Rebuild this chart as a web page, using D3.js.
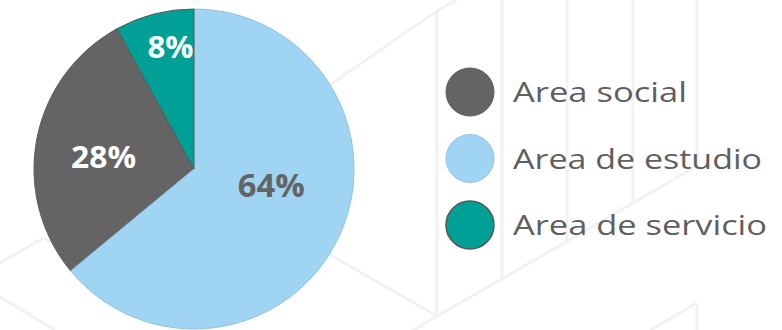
<!DOCTYPE html>
<html>
<head>
<meta charset="utf-8">
<script src="https://cdn.jsdelivr.net/npm/d3@7"></script>
<style>
  html, body { margin: 0; padding: 0; background: #ffffff; }
  svg { display: block; }
</style>
</head>
<body>
<svg id="chart" width="782" height="330"></svg>
<script>
// Distribution of areas (percent)
const categories = ["Area social", "Area de estudio", "Area de servicio"];
const values = [28, 64, 8];
const colors = ["#646464", "#a0d4f3", "#00a097"];
const strokes = ["#5b5b5b", "#8cc3e4", "#555a59"];
const valueLabels = ["28%", "64%", "8%"];
// Slices run clockwise from 12 o'clock in this order
const sliceOrder = ["Area de estudio", "Area social", "Area de servicio"];

const W = 782, H = 330;
const svg = d3.select("#chart");

// Decorative isometric line pattern in the background
const bgLines = [
  [[250, 140], [437, 11]], [[437, 11], [457, 0]],
  [[437, 11], [437, 316]],
  [[502, 0], [502, 279]],
  [[567, 0], [567, 241]],
  [[633, 0], [633, 203]],
  [[697, 0], [697, 166]], [[697, 303], [697, 330]],
  [[410, 332], [697, 166]],
  [[250, 209], [437, 316]],
  [[650, 330], [697, 303]],
  [[0, 263], [43, 238]], [[43, 238], [90, 265]],
  [[0, 297], [55, 330]]
];
svg.append("g")
  .selectAll("line")
  .data(bgLines)
  .join("line")
  .attr("x1", d => d[0][0]).attr("y1", d => d[0][1])
  .attr("x2", d => d[1][0]).attr("y2", d => d[1][1])
  .attr("stroke", "#f2f2f2")
  .attr("stroke-width", 3);

const data = categories.map((c, i) => ({
  name: c, value: values[i], color: colors[i], stroke: strokes[i], label: valueLabels[i]
}));

const cx = 194, cy = 169, R = 160;
const pie = d3.pie()
  .value(d => d.value)
  .sort((a, b) => sliceOrder.indexOf(a.name) - sliceOrder.indexOf(b.name));
const arcs = pie(data);
const arc = d3.arc().innerRadius(0).outerRadius(R);

const g = svg.append("g").attr("transform", `translate(${cx},${cy})`);
g.selectAll("path")
  .data(arcs)
  .join("path")
  .attr("d", arc)
  .attr("fill", d => d.data.color)
  .attr("stroke", d => d.data.stroke)
  .attr("stroke-width", 1);

// Label placement: radius of the label ring and a small nudge per slice
const labelPlace = {
  "Area de estudio": { r: 80, dx: 5, dy: -6, color: "#646464", size: 32, len: 67 },
  "Area social":     { r: 90, dx: -2, dy: 16, color: "#ffffff", size: 31, len: 65 },
  "Area de servicio": { r: 123, dx: 7, dy: 8, color: "#ffffff", size: 30, len: 46 }
};
g.selectAll("text.val")
  .data(arcs)
  .join("text")
  .attr("class", "val")
  .each(function (d) {
    const p = labelPlace[d.data.name];
    const c = d3.arc().innerRadius(p.r).outerRadius(p.r).centroid(d);
    d3.select(this)
      .attr("x", c[0] + p.dx)
      .attr("y", c[1] + p.dy)
      .attr("fill", p.color)
      .attr("font-size", p.size)
      .attr("textLength", p.len)
      .attr("lengthAdjust", "spacingAndGlyphs");
  })
  .attr("text-anchor", "middle")
  .attr("font-family", "'Open Sans', 'Noto Sans', sans-serif")
  .attr("font-weight", 700)
  .text(d => d.data.label);

// Legend
const legendY = d3.scalePoint().domain(categories).range([92, 225]);
const legendTextLen = { "Area social": 174, "Area de estudio": 249, "Area de servicio": 254 };
const legend = svg.append("g");
const item = legend.selectAll("g")
  .data(data)
  .join("g")
  .attr("transform", d => `translate(470,${legendY(d.name)})`);
item.append("circle")
  .attr("r", 24)
  .attr("fill", d => d.color)
  .attr("stroke", d => d.stroke)
  .attr("stroke-width", d => d.name === "Area de servicio" ? 1.5 : 1);
item.append("text")
  .attr("x", 43)
  .attr("y", 10)
  .attr("fill", "#5f5f5f")
  .attr("font-family", "'Open Sans', 'Noto Sans', sans-serif")
  .attr("font-size", 28)
  .attr("textLength", d => legendTextLen[d.name])
  .attr("lengthAdjust", "spacingAndGlyphs")
  .text(d => d.name);
</script>
</body>
</html>
